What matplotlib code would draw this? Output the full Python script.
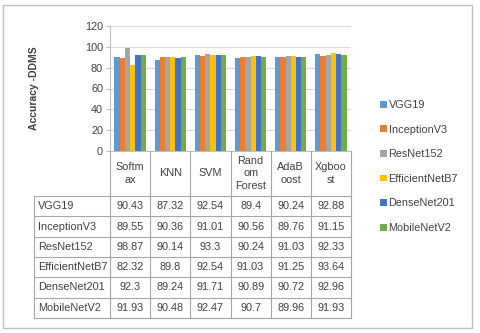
import matplotlib
matplotlib.use('Agg')
import matplotlib.pyplot as plt
from matplotlib.patches import Rectangle
import numpy as np

plt.rcParams['font.family'] = ['Liberation Sans', 'DejaVu Sans']

# данные
categories = ['Softmax', 'KNN', 'SVM', 'Random Forest', 'AdaBoost', 'Xgboost']
header_labels = ['Softm\nax', 'KNN', 'SVM', 'Rand\nom\nForest', 'AdaB\noost', 'Xgboo\nst']
models = ['VGG19', 'InceptionV3', 'ResNet152', 'EfficientNetB7', 'DenseNet201', 'MobileNetV2']
vgg19 = [90.43, 87.32, 92.54, 89.4, 90.24, 92.88]
inception_v3 = [89.55, 90.36, 91.01, 90.56, 89.76, 91.15]
resnet152 = [98.87, 90.14, 93.3, 90.24, 91.03, 92.33]
efficientnet_b7 = [82.32, 89.8, 92.54, 91.03, 91.25, 93.64]
densenet201 = [92.3, 89.24, 91.71, 90.89, 90.72, 92.96]
mobilenet_v2 = [91.93, 90.48, 92.47, 90.7, 89.96, 91.93]
series = [vgg19, inception_v3, resnet152, efficientnet_b7, densenet201, mobilenet_v2]
colors = ['#5B9BD5', '#ED7D31', '#A5A5A5', '#FFC000', '#4472C4', '#70AD47']

W, H = 480, 333
fig = plt.figure(figsize=(W / 100, H / 100), dpi=100)
fs = 7.8
tc = '#404040'

# геометрия в пикселях
px_left, px_right = 110, 351
px_top, px_bottom = 26, 151
tab_left, tab_head, tab_bottom = 34, 196, 318

ax = fig.add_axes([px_left / W, 1 - px_bottom / H, (px_right - px_left) / W, (px_bottom - px_top) / H])
x = np.arange(len(categories))
bw = 0.13
for i, (name, vals) in enumerate(zip(models, series)):
    ax.bar(x + (i - 2.5) * bw, vals, width=bw, color=colors[i], label=name, zorder=3)
ax.set_xlim(-0.5, len(categories) - 0.5)
ax.set_ylim(0, 120)
ax.set_yticks(range(0, 121, 20))
ax.set_xticks([])
ax.grid(axis='y', color='#D9D9D9', linewidth=0.8, zorder=0)
for s in ['top', 'right']:
    ax.spines[s].set_visible(False)
ax.spines['left'].set_color('#BFBFBF')
ax.spines['bottom'].set_color('#BFBFBF')
ax.tick_params(axis='y', colors='#BFBFBF', labelcolor=tc, labelsize=fs, length=3, width=0.8, pad=2)
fig.text(34 / W, 1 - 88 / H, 'Accuracy -DDMS', rotation=90, ha='center', va='center',
         fontsize=7.5, fontweight='bold', color=tc)

# таблица данных
ov = fig.add_axes([0, 0, 1, 1])
ov.set_xlim(0, W)
ov.set_ylim(H, 0)
ov.axis('off')
lc = '#A6A6A6'
ncol = len(categories)
cw = (px_right - px_left) / ncol
rh = (tab_bottom - tab_head) / len(models)
for j in range(ncol + 1):
    ov.plot([px_left + j * cw] * 2, [px_bottom, tab_bottom], color=lc, lw=0.8)
ov.plot([tab_left, tab_left], [tab_head, tab_bottom], color=lc, lw=0.8)
for r in range(len(models) + 1):
    ov.plot([tab_left, px_right], [tab_head + r * rh] * 2, color=lc, lw=0.8)
for j, lab in enumerate(header_labels):
    ov.text(px_left + (j + 0.5) * cw, (px_bottom + tab_head) / 2, lab, ha='center', va='center',
            fontsize=fs, color=tc, linespacing=1.3)
for r, (name, vals) in enumerate(zip(models, series)):
    yc = tab_head + (r + 0.5) * rh
    ov.text(tab_left + 4, yc, name, ha='left', va='center', fontsize=fs, color=tc)
    for j, v in enumerate(vals):
        ov.text(px_left + (j + 0.5) * cw, yc, f'{v:g}', ha='center', va='center', fontsize=fs, color=tc)

# рамка
ov.add_patch(Rectangle((3, 5), 469, 323, fill=False, edgecolor='#BFBFBF', lw=1))

fig.legend(loc='center left', bbox_to_anchor=(375 / W, 1 - 166.5 / H), frameon=False,
           fontsize=fs, handlelength=0.6, handleheight=0.6, handletextpad=0.15,
           labelspacing=1.35, borderpad=0, labelcolor=tc)

fig.savefig('out.png', dpi=100)
